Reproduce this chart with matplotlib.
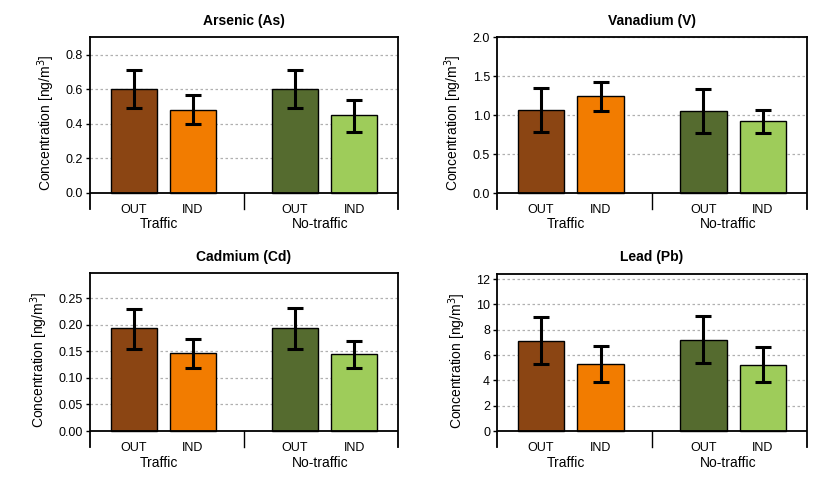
import numpy as np
import matplotlib
matplotlib.use('Agg')
from matplotlib import pyplot as plt

plt.rcParams['font.family'] = ['Liberation Sans', 'DejaVu Sans']

titles = ['Arsenic (As)', 'Vanadium (V)', 'Cadmium (Cd)', 'Lead (Pb)']
bar_labels = ['OUT', 'IND', 'OUT', 'IND']
groups = ['Traffic', 'No-traffic']
colors = ['#8B4513', '#F27C00', '#556B2F', '#9ECC5A']

# mean values, and lower / upper ends of the error bars
means = [[0.60, 0.48, 0.60, 0.45],
         [1.06, 1.24, 1.05, 0.92],
         [0.193, 0.146, 0.193, 0.144],
         [7.1, 5.3, 7.2, 5.2]]
err_lo = [[0.49, 0.40, 0.495, 0.355],
          [0.78, 1.05, 0.77, 0.77],
          [0.155, 0.119, 0.154, 0.119],
          [5.3, 3.9, 5.4, 3.85]]
err_hi = [[0.71, 0.565, 0.71, 0.54],
          [1.34, 1.42, 1.33, 1.07],
          [0.230, 0.173, 0.232, 0.170],
          [9.0, 6.7, 9.05, 6.65]]

yticks = [[0.0, 0.2, 0.4, 0.6, 0.8],
          [0.0, 0.5, 1.0, 1.5, 2.0],
          [0.00, 0.05, 0.10, 0.15, 0.20, 0.25],
          [0, 2, 4, 6, 8, 10, 12]]
yfmt = ['%.1f', '%.1f', '%.2f', '%d']
ylims = [(-0.093, 0.904), (-0.205, 2.0), (-0.030, 0.297), (-1.26, 12.4)]

pos = np.array([0, 1, 2.72, 3.72])
xlim = (-0.74, 4.46)
mid = 1.86

fig = plt.figure(figsize=(8.15, 4.8), dpi=100)
# axes boxes in pixels: left, top, right, bottom
W, H = 815.0, 480.0
rects = [(90, 37, 398, 209), (497, 37, 807, 209),
         (90, 273, 398, 447), (497, 274, 807, 447)]

for i in range(4):
    x0, y0, x1, y1 = rects[i]
    ax = fig.add_axes([x0 / W, 1 - y1 / H, (x1 - x0) / W, (y1 - y0) / H])
    m = np.array(means[i])
    lo = m - np.array(err_lo[i])
    hi = np.array(err_hi[i]) - m
    ax.bar(pos, m, width=0.78, color=colors, edgecolor='black', linewidth=1.0, zorder=2)
    ax.errorbar(pos, m, yerr=[lo, hi], fmt='none', ecolor='black',
                elinewidth=2.2, capsize=5.5, capthick=2.2, zorder=3)
    ax.set_xlim(xlim)
    ax.set_ylim(ylims[i])
    ax.set_yticks(yticks[i])
    ax.set_yticklabels([yfmt[i] % t for t in yticks[i]], fontsize=9)
    for t in yticks[i][1:]:
        ax.axhline(t, color='#b0b0b0', linestyle=(0, (2, 2)), linewidth=0.9, zorder=1)
    ax.axhline(0, color='black', linewidth=1.3, zorder=4)
    ax.plot([mid, mid], [ylims[i][0], 0], color='black', linewidth=1.0, clip_on=False)
    ax.spines['bottom'].set_visible(False)
    for s in ['left', 'right', 'top']:
        ax.spines[s].set_linewidth(1.3)
    ax.tick_params(axis='y', length=3, width=1.0, pad=2)
    ax.set_xticks([])
    ax.set_title(titles[i], fontsize=10, fontweight='bold', pad=9)
    ax.set_ylabel('Concentration [ng/m$^3$]', fontsize=10, labelpad=6)
    # bar and group labels under the axis
    for p, lab in zip(pos, bar_labels):
        ax.text(p, -0.005, lab, transform=ax.get_xaxis_transform(), ha='center',
                va='center', fontsize=9)
    for g, lab in enumerate(groups):
        ax.text(pos[2 * g] + 0.42, -0.09, lab, transform=ax.get_xaxis_transform(),
                ha='center', va='center', fontsize=10)

fig.savefig('out.png', dpi=100)
